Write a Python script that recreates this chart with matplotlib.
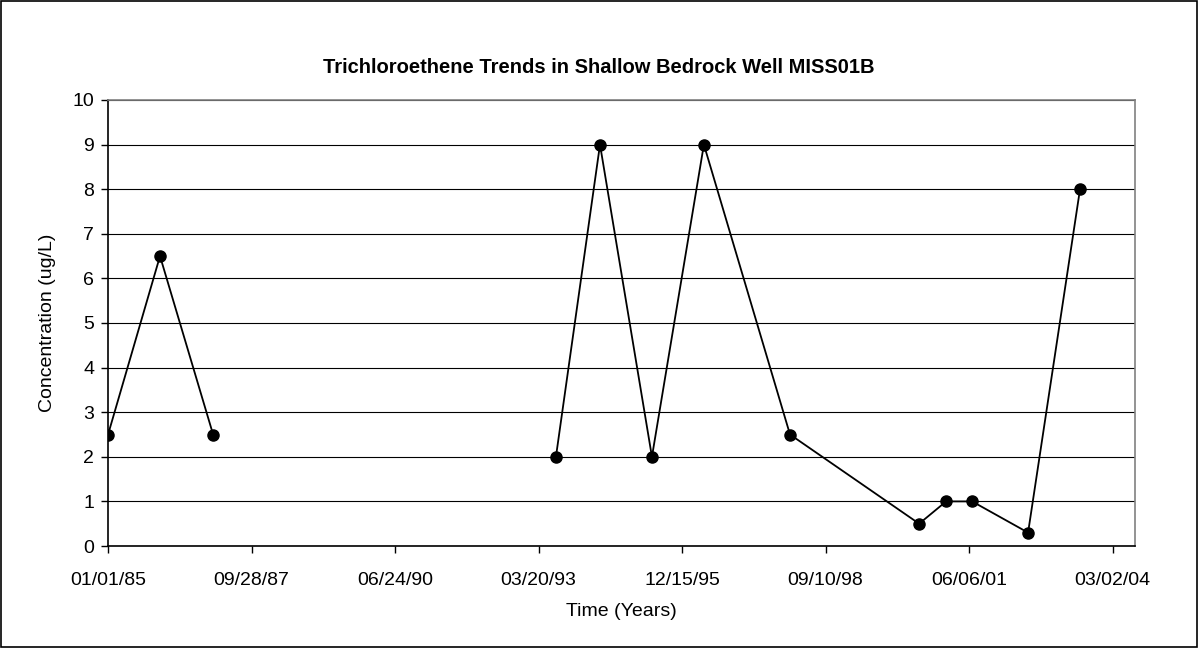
import matplotlib
matplotlib.use("Agg")
import matplotlib.pyplot as plt
import matplotlib.dates as mdates
import numpy as np
import datetime as dt

# sample dates and TCE concentrations (ug/L); NaN = no sample, breaks the line
dates = ["1985-01-01", "1985-12-29", "1987-01-03", "1990-01-01",
         "1993-07-19", "1994-05-22", "1995-05-19", "1996-05-15",
         "1998-01-05", "2000-06-23", "2000-12-28", "2001-06-27",
         "2002-07-22", "2003-07-19"]
conc = [2.5, 6.5, 2.5, np.nan, 2.0, 9.0, 2.0, 9.0, 2.5, 0.5, 1.0, 1.0, 0.3, 8.0]

tick_dates = ["1985-01-01", "1987-09-28", "1990-06-24", "1993-03-20",
              "1995-12-15", "1998-09-10", "2001-06-06", "2004-03-02"]

x = [dt.datetime.strptime(d, "%Y-%m-%d") for d in dates]
xt = [dt.datetime.strptime(d, "%Y-%m-%d") for d in tick_dates]

fig = plt.figure(figsize=(11.98, 6.48), dpi=100)
plt.rcParams['font.family'] = ['Liberation Sans', 'DejaVu Sans']
ax = fig.add_axes([0.0902, 0.1574, 0.8572, 0.6883])

ax.plot(x, conc, color="black", lw=1.3, marker="o", ms=8, zorder=3)

ax.set_xlim(dt.datetime(1985, 1, 1), dt.datetime(2004, 8, 5))
ax.set_ylim(0, 10)
ax.set_yticks(range(0, 11))
ax.set_xticks(xt)
ax.xaxis.set_major_formatter(mdates.DateFormatter("%m/%d/%y"))
ax.tick_params(labelsize=14, length=5, width=1, colors="black")
ax.tick_params(axis="x", pad=14)
ax.tick_params(axis="y", pad=5)

ax.grid(axis="y", color="black", lw=0.8)
ax.set_axisbelow(True)
ax.spines["left"].set_color("black")
ax.spines["bottom"].set_color("black")
ax.spines["top"].set_color("#808080")
ax.spines["right"].set_color("#808080")
for s in ax.spines.values():
    s.set_linewidth(1.2)

ax.set_xlabel("Time (Years)", fontsize=14, labelpad=10)
ax.set_ylabel("Concentration (ug/L)", fontsize=14, labelpad=12)
fig.text(0.5, 0.8966, "Trichloroethene Trends in Shallow Bedrock Well MISS01B",
         ha="center", va="center", fontsize=14.5, fontweight="bold")

# outer chart border
fig.patches.append(plt.Rectangle((0.001, 0.002), 0.998, 0.996, transform=fig.transFigure,
                                 fill=False, edgecolor="black", lw=1.2))

fig.savefig("out.png", dpi=100)
